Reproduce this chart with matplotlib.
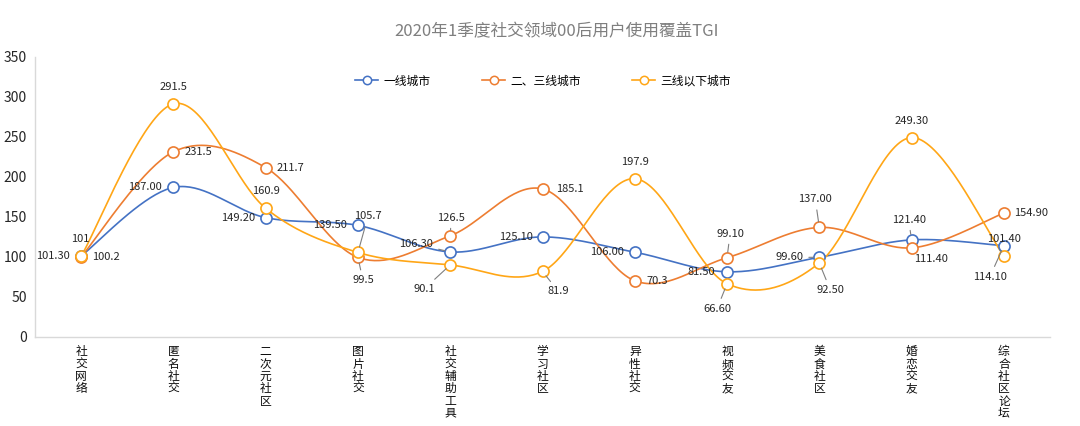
import matplotlib
matplotlib.use("Agg")
import matplotlib.pyplot as plt
import numpy as np

plt.rcParams['font.family'] = ['Noto Sans CJK SC', 'DejaVu Sans']

categories = ['社交网络', '匿名社交', '二次元社区', '图片社交', '社交辅助工具', '学习社区',
              '异性社交', '视频交友', '美食社区', '婚恋交友', '综合社区论坛']

tier1 = [101.30, 187.00, 149.20, 139.50, 106.30, 125.10, 106.00, 81.50, 99.60, 121.40, 114.10]
tier23 = [100.2, 231.5, 211.7, 99.5, 126.5, 185.1, 70.3, 99.10, 137.00, 111.40, 154.90]
tier_low = [101, 291.5, 160.9, 105.7, 90.1, 81.9, 197.9, 66.60, 92.50, 249.30, 101.40]

tier1_labels = ['101.30', '187.00', '149.20', '139.50', '106.30', '125.10', '106.00', '81.50', '99.60', '121.40', '114.10']
tier23_labels = ['100.2', '231.5', '211.7', '99.5', '126.5', '185.1', '70.3', '99.10', '137.00', '111.40', '154.90']
tier_low_labels = ['101', '291.5', '160.9', '105.7', '90.1', '81.9', '197.9', '66.60', '92.50', '249.30', '101.40']

series_names = ['一线城市', '二、三线城市', '三线以下城市']
colors = ['#4472C4', '#ED7D31', '#FFA616']

y_ticks = [0, 50, 100, 150, 200, 250, 300, 350]

# label offsets in pixels (dx, dy) and whether a leader line is drawn
tier1_offsets = [(-28, 0, 0), (-28, 0, 0), (-28, 0, 0), (-28, 0, 0), (-34, 8, 1), (-26, 0, 0),
                 (-28, 0, 0), (-26, 0, 0), (-30, 0, 1), (-3, 20, 1), (-14, -31, 1)]
tier23_offsets = [(25, 0, 0), (25, 0, 0), (25, 0, 0), (5, -23, 1), (1, 18, 1), (27, 0, 0),
                  (22, 0, 0), (3, 24, 1), (-4, 28, 1), (19, -11, 0), (27, 0, 0)]
tier_low_offsets = [(-1, 17, 0), (0, 17, 0), (0, 17, 0), (10, 36, 1), (-26, -24, 1), (16, -20, 1),
                    (0, 17, 0), (-10, -25, 1), (11, -27, 1), (0, 17, 0), (0, 17, 0)]


def smooth_curve(y, steps=40):
    """Excel-style smoothed line (Catmull-Rom as cubic Bezier)."""
    y = np.asarray(y, dtype=float)
    x = np.arange(len(y), dtype=float)
    pts = np.column_stack([x, y])
    ext = np.vstack([pts[0], pts, pts[-1]])
    out = []
    t = np.linspace(0, 1, steps)[:, None]
    for i in range(len(pts) - 1):
        p0, p1, p2, p3 = ext[i], ext[i + 1], ext[i + 2], ext[i + 3]
        c1 = p1 + (p2 - p0) / 6
        c2 = p2 - (p3 - p1) / 6
        seg = ((1 - t) ** 3) * p1 + 3 * ((1 - t) ** 2) * t * c1 + 3 * (1 - t) * t ** 2 * c2 + t ** 3 * p2
        out.append(seg if i == 0 else seg[1:])
    out = np.vstack(out)
    return out[:, 0], out[:, 1]


fig = plt.figure(figsize=(10.8, 4.26), dpi=100)
ax = fig.add_axes([35 / 1080, 1 - 337 / 426, (1050 - 35) / 1080, (337 - 57) / 426])

x = np.arange(len(categories))
all_series = [(tier1, tier1_labels, tier1_offsets),
              (tier23, tier23_labels, tier23_offsets),
              (tier_low, tier_low_labels, tier_low_offsets)]

for (vals, labels, offsets), name, color in zip(all_series, series_names, colors):
    sx, sy = smooth_curve(vals)
    ax.plot(sx, sy, color=color, lw=1.2, zorder=2)
    ax.plot(x, vals, linestyle='none', marker='o', markersize=8, markerfacecolor='white',
            markeredgecolor=color, markeredgewidth=1.2, zorder=3)
    ax.plot([], [], color=color, lw=1.2, marker='o', markersize=6, markerfacecolor='white',
            markeredgecolor=color, markeredgewidth=1.1, label=name)

for vals, labels, offsets in all_series:
    for xi, v, lab, (dx, dy, leader) in zip(x, vals, labels, offsets):
        props = None
        if leader:
            props = dict(arrowstyle='-', color='#7f7f7f', lw=0.8, shrinkA=2, shrinkB=4)
        ax.annotate(lab, xy=(xi, v), xytext=(dx, dy), textcoords='offset pixels',
                    ha='center', va='center', fontsize=8, color='#262626',
                    arrowprops=props, zorder=4)

ax.set_xlim(-0.5, len(categories) - 0.5)
ax.set_ylim(0, 350)
ax.set_yticks(y_ticks)
ax.set_xticks(x)
ax.set_xticklabels(['\n'.join(c) for c in categories], fontsize=8.5, color='#0d0d0d',
                   linespacing=0.93, va='top', fontweight='medium')
ax.tick_params(axis='x', length=0, pad=6)
ax.tick_params(axis='y', length=0, pad=6, labelsize=10, labelcolor='#262626')

for side in ['top', 'right']:
    ax.spines[side].set_visible(False)
for side in ['left', 'bottom']:
    ax.spines[side].set_color('#d9d9d9')
    ax.spines[side].set_linewidth(1)

fig.text(557 / 1080, 1 - 32 / 426, '2020年1季度社交领域00后用户使用覆盖TGI', ha='center', va='center',
         fontsize=12, color='#7f7f7f')

fig.legend(loc='center', bbox_to_anchor=(543 / 1080, 1 - 81 / 426), ncol=3, frameon=False,
           fontsize=8.5, handlelength=1.95, handletextpad=0.4, columnspacing=4.4)

fig.savefig('out.png', dpi=100)
